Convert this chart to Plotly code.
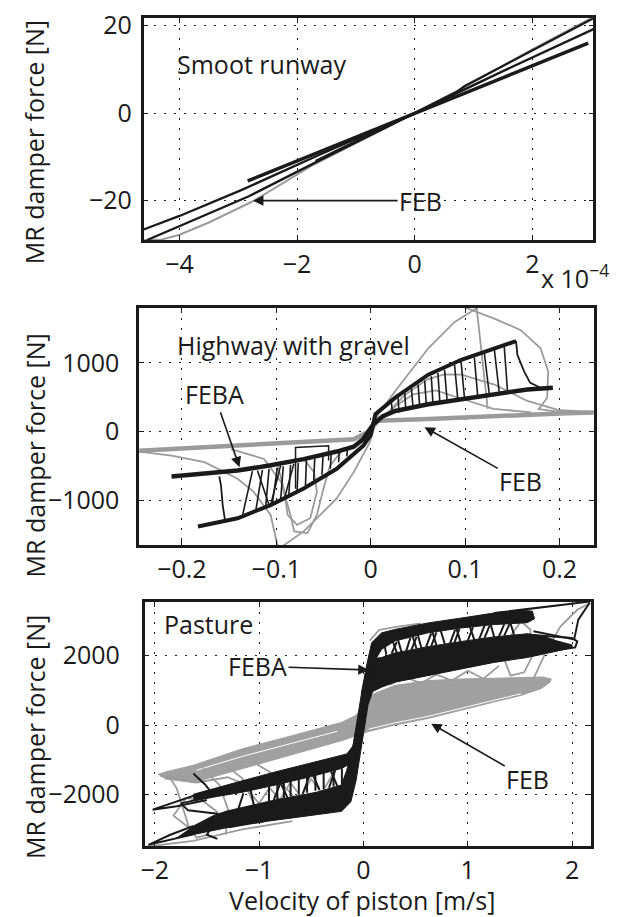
import plotly.graph_objects as go

FONT = "Open Sans"
FS = 25
BLACK = "#1a1a1a"
GREY = "#9b9b9b"
GREYFILL = "#a0a0a0"

# ---------------- Panel 1: Smoot runway (velocity in units of 1e-4 m/s) ----------------
p1_feba_a_x = [-4.61, -4.0, -2.95, -1.6, 0.0, 0.73, 0.85, 1.6, 3.04]
p1_feba_a_y = [-26.6, -23.5, -17.6, -9.4, 0.0, 5.0, 6.2, 11.5, 21.7]
p1_feba_b_x = [-4.55, -4.0, -2.82, -1.5, 0.0, 1.5, 3.04]
p1_feba_b_y = [-29.0, -25.8, -19.0, -10.0, 0.0, 9.6, 19.2]
p1_feba_c_x = [-2.84, 2.95]
p1_feba_c_y = [-15.5, 16.0]
p1_feba_d_x = [-1.69, -0.8, 0.0, 1.2]
p1_feba_d_y = [-10.9, -5.0, 0.0, 7.6]
p1_feb_x = [-4.6, -4.3, -4.0, -3.5, -2.76, -1.75, -0.8, 0.0, 0.8, 2.0, 3.04]
p1_feb_y = [-29.0, -28.9, -27.8, -25.0, -20.2, -12.0, -5.5, 0.0, 5.6, 14.6, 22.0]
p1_xticks = [-4, -2, 0, 2]
p1_xticktext = ["\u22124", "\u22122", "0", "2"]
p1_yticks = [-20, 0, 20]
p1_yticktext = ["\u221220", "0", "20"]

# ---------------- Panel 2: Highway with gravel ----------------
p2_feba_small_x = [-0.211, -0.175, -0.141, -0.106, -0.071, -0.036, -0.018, -0.008, 0.003, 0.013, 0.026, 0.061, 0.096, 0.131, 0.166, 0.193]
p2_feba_small_y = [-651, -610, -565, -490, -400, -290, -220, -110, 110, 225, 300, 397, 469, 550, 613, 637]
p2_feba_large_x = [-0.183, -0.141, -0.106, -0.071, -0.036, -0.018, -0.008, 0.0, 0.005, 0.026, 0.061, 0.096, 0.131, 0.154]
p2_feba_large_y = [-1379, -1259, -1068, -828, -541, -330, -206, -50, 254, 493, 828, 1044, 1211, 1316]
p2_tail_r_x = [0.154, 0.1554, 0.1625, 0.169, 0.180]
p2_tail_r_y = [1316, 1115, 876, 708, 637]
p2_tail_l_x = [-0.1604, -0.1586, -0.1568, -0.1544]
p2_tail_l_y = [-651, -780, -1068, -1283]
p2_trans_r_x0 = [0.1414, 0.1309, 0.1204, 0.1098, 0.0958, 0.0888, 0.0782, 0.0712, 0.0642, 0.0572, 0.0502, 0.0432, 0.0361, 0.0290, 0.0220]
p2_trans_r_y0 = [1249, 1202, 1139, 1077, 1010, 972, 900, 852, 804, 742, 685, 627, 565, 493, 421]
p2_trans_r_x1 = [0.1449, 0.1361, 0.1256, 0.1133, 0.0993, 0.0923, 0.0810, 0.0733, 0.0660, 0.0590, 0.0520, 0.0450, 0.0372, 0.0300, 0.0230]
p2_trans_r_y1 = [598, 579, 550, 531, 493, 469, 445, 421, 397, 373, 349, 326, 302, 278, 254]
p2_trans_l_x0 = [-0.1358, -0.1218, -0.1112, -0.1042, -0.0954, -0.0867, -0.0779, -0.0691, -0.0604, -0.0516, -0.0428, -0.0340, -0.0253]
p2_trans_l_y0 = [-1221, -1154, -1091, -1048, -996, -924, -852, -780, -708, -627, -541, -445, -359]
p2_trans_l_x1 = [-0.1253, -0.1147, -0.1077, -0.0989, -0.0926, -0.0849, -0.0768, -0.0681, -0.0593, -0.0505, -0.0418, -0.0333, -0.0246]
p2_trans_l_y1 = [-574, -555, -541, -527, -503, -483, -455, -421, -397, -359, -326, -292, -254]
p2_diag_x0 = [-0.120, -0.0954, -0.0814]
p2_diag_y0 = [-565, -493, -469]
p2_diag_x1 = [-0.1077, -0.106, -0.0919]
p2_diag_y1 = [-1068, -1068, -996]
p2_box_x = [-0.0796, -0.0796, -0.0446, -0.0446]
p2_box_y = [-830, -230, -206, -421]
p2_feb_flat_x = [-0.2453, -0.176, -0.106, -0.036, -0.018, -0.004, 0.008, 0.061, 0.131, 0.20, 0.2363]
p2_feb_flat_y = [-278, -230, -182, -134, -110, -14, 158, 182, 230, 263, 278]
p2_feb_s_x = [-0.2453, -0.211, -0.176, -0.141, -0.124, -0.106, -0.099, -0.095, -0.071, -0.036, -0.018, -0.001, 0.008, 0.026, 0.061, 0.089, 0.113, 0.118]
p2_feb_s_y = [-290, -349, -445, -685, -876, -1211, -1640, -1680, -1450, -972, -589, -158, 254, 589, 1211, 1594, 1800, 1830]
p2_feb_arc_x = [0.095, 0.131, 0.159, 0.180, 0.188, 0.187, 0.178, 0.20, 0.2363]
p2_feb_arc_y = [1830, 1642, 1474, 1211, 876, 493, 326, 285, 280]
p2_feb_vert_x = [0.112, 0.116, 0.120, 0.124]
p2_feb_vert_y = [1830, 1340, 860, 330]
p2_feb_inner_x = [0.015, 0.035, 0.060, 0.078, 0.096, 0.131, 0.166, 0.20, 0.2363]
p2_feb_inner_y = [230, 520, 760, 830, 828, 684, 445, 310, 285]
p2_feb_inner2_x = [0.012, 0.027, 0.045, 0.069, 0.098, 0.13, 0.17]
p2_feb_inner2_y = [200, 380, 540, 600, 470, 330, 280]
p2_feb_l1_x = [-0.148, -0.113, -0.095, -0.085, -0.081, -0.067, -0.057, -0.050, -0.043, -0.029]
p2_feb_l1_y = [-254, -397, -732, -1211, -1450, -1474, -1211, -828, -493, -254]
p2_feb_l2_x = [-0.099, -0.092, -0.088, -0.078, -0.064, -0.057, -0.060, -0.071, -0.099]
p2_feb_l2_y = [-469, -828, -1211, -1355, -1259, -876, -589, -397, -469]
p2_xticks = [-0.2, -0.1, 0, 0.1, 0.2]
p2_xticktext = ["\u22120.2", "\u22120.1", "0", "0.1", "0.2"]
p2_yticks = [-1000, 0, 1000]
p2_yticktext = ["\u22121000", "0", "1000"]

# ---------------- Panel 3: Pasture ----------------
p3_feb_band_x = [-1.97, -1.89, -1.63, -1.16, -0.68, -0.21, -0.08, 0.0, 0.1, 0.30, 0.62, 0.94, 1.25, 1.51, 1.72, 1.80,
                 1.79, 1.70, 1.51, 1.25, 0.94, 0.62, 0.30, 0.048, -0.21, -0.68, -1.16, -1.63, -1.90]
p3_feb_band_y = [-1420, -1343, -1154, -681, -303, 76, 265, 500, 900, 1135, 1277, 1324, 1343, 1371, 1380, 1320,
                 1229, 1040, 851, 662, 426, 189, 0, -189, -450, -850, -1250, -1650, -1550]
p3_feb_white_x = [0.05, 0.30, 0.62, 0.94, 1.25, 1.51]
p3_feb_white_y = [-120, 60, 250, 480, 710, 900]
p3_feb_white2_x = [-1.6, -1.16, -0.68, -0.25]
p3_feb_white2_y = [-1300, -900, -520, -180]
p3_feb_gl_a_x = [-1.89, -1.79, -1.73, -1.67, -1.60, -1.48]
p3_feb_gl_a_y = [-1343, -1816, -2383, -2950, -3234, -3140]
p3_feb_gl_b_x = [-1.54, -1.38, -1.29, -1.32]
p3_feb_gl_b_y = [-1248, -1721, -2478, -3140]
p3_feb_gl_c_x = [-1.32, -1.16, -1.06, -1.0]
p3_feb_gl_c_y = [-1154, -1532, -2194, -2600]
p3_feb_gl_d_x = [-1.06, -0.90, -0.71, -0.6]
p3_feb_gl_d_y = [-1059, -1343, -1910, -2300]
p3_feb_gl_e_x = [-1.70, -1.82, -1.65, -1.45, -1.40, -1.55, -1.70]
p3_feb_gl_e_y = [-2100, -2600, -3000, -2950, -2500, -2150, -2100]
p3_feb_gl_f_x = [-1.95, -1.60, -1.30, -1.10, -0.90]
p3_feb_gl_f_y = [-1450, -1650, -1500, -1750, -1500]
p3_feb_bottom_x = [-2.10, -1.63, -1.16, -0.68]
p3_feb_bottom_y = [-3500, -3329, -2998, -2761]
p3_feb_zig_l_x = [-1.1, -1.0, -0.9, -0.8, -0.7, -0.6, -0.5, -0.4, -0.3]
p3_feb_zig_l_y = [-1900, -2250, -1800, -2150, -1650, -2050, -1550, -1950, -1450]
p3_feb_gr_a_x = [1.35, 1.41, 1.51, 1.60, 1.62, 1.54, 1.41, 1.35]
p3_feb_gr_a_y = [1891, 2553, 2979, 2743, 1986, 1513, 1419, 1891]
p3_feb_gr_b_x = [1.63, 1.76, 1.89, 2.05, 2.17]
p3_feb_gr_b_y = [1324, 2175, 2837, 3310, 3499]
p3_feb_zig_r_x = [0.25, 0.40, 0.55, 0.70, 0.85, 1.00, 1.15, 1.30]
p3_feb_zig_r_y = [1150, 1380, 1200, 1450, 1280, 1560, 1330, 1700]
p3_feb_top_x = [0.06, 0.15, 0.30, 0.55]
p3_feb_top_y = [2420, 2730, 2810, 2920]

p3_feba_main_x = [-1.80, -1.63, -1.45, -1.16, -0.68, -0.21, -0.12, -0.07, -0.03, 0.01, 0.045, 0.09, 0.175, 0.30, 0.62, 0.94, 1.25, 1.57, 1.72, 1.85, 2.0,
                  2.0, 1.85, 1.72, 1.57, 1.25, 0.94, 0.62, 0.30, 0.175, 0.08, 0.03, -0.02, -0.055, -0.075, -0.10, -0.16,
                  -0.21, -0.45, -0.84, -1.32, -1.45, -1.63]
p3_feba_main_y = [-3250, -3140, -3030, -2856, -2667, -2478, -2200, -1589, -831, -74, 587, 965, 1088, 1229, 1419, 1608, 1797, 1939, 2030, 2120, 2230,
                  2300, 2420, 2560, 2620, 2530, 2400, 2250, 2070, 1939, 1900, 1580, 871, 210, -264, -600, -1300,
                  -1721, -1930, -2147, -2478, -2620, -2900]
p3_feba_ll_x = [-1.63, -1.40, -1.16, -0.84, -0.50, -0.21, -0.16, -0.10, -0.075, -0.05,
                -0.02, -0.06, -0.21, -0.50, -0.84, -1.16, -1.40, -1.63]
p3_feba_ll_y = [-1990, -1790, -1600, -1343, -1080, -870, -831, -600, -264, 150,
                -300, -1000, -1248, -1480, -1721, -1930, -2050, -2180]
p3_feba_ur_x = [-0.02, 0.03, 0.079, 0.175, 0.30, 0.62, 0.94, 1.25, 1.50, 1.62,
                1.64, 1.57, 1.25, 0.94, 0.62, 0.30, 0.175, 0.10, 0.05]
p3_feba_ur_y = [900, 1700, 2364, 2648, 2743, 2932, 3073, 3215, 3300, 3270,
                3050, 2940, 2884, 2790, 2648, 2412, 2175, 1800, 1000]
p3_feba_topline_x = [1.25, 1.60, 1.89, 2.17]
p3_feba_topline_y = [3215, 3340, 3452, 3546]
p3_feba_loop1_x = [-1.50, -1.79, -2.02, -1.79, -1.50]
p3_feba_loop1_y = [-1900, -2194, -2430, -2330, -2150]
p3_feba_loop2_x = [-1.63, -1.85, -2.06, -1.85, -1.63]
p3_feba_loop2_y = [-2900, -3150, -3440, -3300, -3140]
p3_feba_loop3_x = [-0.9, -1.29, -0.95]
p3_feba_loop3_y = [-2560, -2932, -2760]
p3_feba_squig_x = [-1.63, -1.52, -1.45, -1.60, -1.75, -1.68, -1.40, -1.30, -1.45, -1.50, -1.40]
p3_feba_squig_y = [-1390, -1700, -1960, -2150, -2250, -2450, -2550, -2700, -2900, -3150, -3270]
p3_feba_loopR1_x = [1.55, 1.80, 2.03, 2.05, 2.0, 1.75, 1.55]
p3_feba_loopR1_y = [2000, 2120, 2230, 2400, 2500, 2560, 2600]
p3_feba_loopR2_x = [1.63, 2.02, 2.06, 2.17]
p3_feba_loopR2_y = [2695, 2459, 3026, 3518]
p3_bar_l_x0 = [-1.20, -1.05, -0.905, -0.86, -0.825, -0.762, -0.73, -0.698, -0.619, -0.58, -0.540, -0.460, -0.42, -0.381, -0.33, -0.286, -0.25, -0.206]
p3_bar_l_y0 = [-2420, -2300, -2190, -2160, -2137, -2094, -2070, -2051, -1998, -1970, -1944, -1890, -1860, -1836, -1800, -1772, -1745, -1718]
p3_bar_l_x1 = [-1.15, -1.08, -0.905, -0.80, -0.825, -0.762, -0.79, -0.698, -0.619, -0.52, -0.540, -0.460, -0.48, -0.381, -0.27, -0.286, -0.31, -0.206]
p3_bar_l_y1 = [-1960, -1880, -1770, -1700, -1710, -1663, -1690, -1615, -1555, -1480, -1496, -1436, -1460, -1377, -1300, -1305, -1340, -1245]
p3_bar_r_x0 = [0.22, 0.27, 0.32, 0.365, 0.41, 0.46, 0.51, 0.556, 0.60, 0.65, 0.70, 0.78, 0.83, 0.873, 0.93, 1.0, 1.063, 1.11, 1.159, 1.254, 1.30, 1.349, 1.444]
p3_bar_r_y0 = [2020, 2050, 2080, 2105, 2130, 2160, 2190, 2215, 2240, 2265, 2290, 2325, 2345, 2365, 2395, 2420, 2445, 2470, 2490, 2530, 2545, 2560, 2590]
p3_bar_r_x1 = [0.20, 0.32, 0.28, 0.33, 0.45, 0.51, 0.47, 0.52, 0.65, 0.70, 0.66, 0.74, 0.88, 0.92, 0.89, 1.05, 1.02, 1.16, 1.21, 1.22, 1.35, 1.40, 1.41]
p3_bar_r_y1 = [2330, 2390, 2420, 2460, 2500, 2530, 2560, 2600, 2630, 2660, 2690, 2720, 2740, 2760, 2790, 2810, 2830, 2845, 2855, 2885, 2895, 2900, 2920]
p3_xticks = [-2, -1, 0, 1, 2]
p3_xticktext = ["\u22122", "\u22121", "0", "1", "2"]
p3_yticks = [-2000, 0, 2000]
p3_yticktext = ["\u22122000", "0", "2000"]

fig = go.Figure()


def add_line(x, y, ax, color, width):
    fig.add_trace(go.Scatter(x=x, y=y, mode="lines", line=dict(color=color, width=width),
                             xaxis="x" + ax, yaxis="y" + ax, hoverinfo="skip", showlegend=False))


def add_poly(x, y, ax, color):
    fig.add_trace(go.Scatter(x=x, y=y, mode="lines", fill="toself", fillcolor=color,
                             line=dict(color=color, width=1), xaxis="x" + ax, yaxis="y" + ax,
                             hoverinfo="skip", showlegend=False))


def add_segments(x0, y0, x1, y1, ax, color, width):
    xs, ys = [], []
    for a, b, c, d in zip(x0, y0, x1, y1):
        xs += [a, c, None]
        ys += [b, d, None]
    add_line(xs, ys, ax, color, width)


# Panel 1
add_line(p1_feb_x, p1_feb_y, "", GREY, 2)
add_line(p1_feba_a_x, p1_feba_a_y, "", BLACK, 2.3)
add_line(p1_feba_b_x, p1_feba_b_y, "", BLACK, 2.3)
add_line(p1_feba_d_x, p1_feba_d_y, "", BLACK, 1.6)
add_line(p1_feba_c_x, p1_feba_c_y, "", BLACK, 3.5)

# Panel 2
for xx, yy in [(p2_feb_s_x, p2_feb_s_y), (p2_feb_arc_x, p2_feb_arc_y), (p2_feb_vert_x, p2_feb_vert_y),
               (p2_feb_inner_x, p2_feb_inner_y), (p2_feb_inner2_x, p2_feb_inner2_y),
               (p2_feb_l1_x, p2_feb_l1_y), (p2_feb_l2_x, p2_feb_l2_y)]:
    add_line(xx, yy, "2", GREY, 1.8)
add_line(p2_feb_flat_x, p2_feb_flat_y, "2", GREY, 4.5)
add_segments(p2_trans_r_x0, p2_trans_r_y0, p2_trans_r_x1, p2_trans_r_y1, "2", BLACK, 1.6)
add_segments(p2_trans_l_x0, p2_trans_l_y0, p2_trans_l_x1, p2_trans_l_y1, "2", BLACK, 1.6)
add_segments(p2_diag_x0, p2_diag_y0, p2_diag_x1, p2_diag_y1, "2", BLACK, 1.6)
add_line(p2_box_x, p2_box_y, "2", BLACK, 1.5)
add_line(p2_tail_r_x, p2_tail_r_y, "2", BLACK, 1.8)
add_line(p2_tail_l_x, p2_tail_l_y, "2", BLACK, 1.8)
add_line(p2_feba_small_x, p2_feba_small_y, "2", BLACK, 4.5)
add_line(p2_feba_large_x, p2_feba_large_y, "2", BLACK, 4)

# Panel 3
add_poly(p3_feb_band_x, p3_feb_band_y, "3", GREYFILL)
add_line(p3_feb_white_x, p3_feb_white_y, "3", "white", 1)
add_line(p3_feb_white2_x, p3_feb_white2_y, "3", "white", 1)
for xx, yy in [(p3_feb_gl_a_x, p3_feb_gl_a_y), (p3_feb_gl_b_x, p3_feb_gl_b_y), (p3_feb_gl_c_x, p3_feb_gl_c_y),
               (p3_feb_gl_d_x, p3_feb_gl_d_y), (p3_feb_gl_e_x, p3_feb_gl_e_y), (p3_feb_gl_f_x, p3_feb_gl_f_y),
               (p3_feb_bottom_x, p3_feb_bottom_y),
               (p3_feb_zig_l_x, p3_feb_zig_l_y), (p3_feb_gr_a_x, p3_feb_gr_a_y), (p3_feb_gr_b_x, p3_feb_gr_b_y),
               (p3_feb_zig_r_x, p3_feb_zig_r_y), (p3_feb_top_x, p3_feb_top_y)]:
    add_line(xx, yy, "3", GREY, 1.8)
add_poly(p3_feba_main_x, p3_feba_main_y, "3", BLACK)
add_poly(p3_feba_ll_x, p3_feba_ll_y, "3", BLACK)
add_poly(p3_feba_ur_x, p3_feba_ur_y, "3", BLACK)
add_segments(p3_bar_l_x0, p3_bar_l_y0, p3_bar_l_x1, p3_bar_l_y1, "3", BLACK, 2)
add_segments(p3_bar_r_x0, p3_bar_r_y0, p3_bar_r_x1, p3_bar_r_y1, "3", BLACK, 2)
for xx, yy in [(p3_feba_topline_x, p3_feba_topline_y), (p3_feba_loop1_x, p3_feba_loop1_y),
               (p3_feba_loop2_x, p3_feba_loop2_y), (p3_feba_loop3_x, p3_feba_loop3_y),
               (p3_feba_squig_x, p3_feba_squig_y), (p3_feba_loopR1_x, p3_feba_loopR1_y),
               (p3_feba_loopR2_x, p3_feba_loopR2_y)]:
    add_line(xx, yy, "3", BLACK, 2)

W, H = 633, 917


def px(v):
    return v / W


def py(v):
    return 1 - v / H


tickfont = dict(family=FONT, size=FS, color=BLACK)
axis_style = dict(showline=True, linecolor=BLACK, linewidth=2.5, mirror="ticks",
                  showgrid=True, gridcolor=BLACK, gridwidth=1, griddash="2px,8px",
                  zeroline=False, ticks="inside", ticklen=5, tickwidth=1.2, tickcolor=BLACK,
                  tickfont=tickfont, ticklabeloverflow="allow")


def xaxis(dom, rng, tv, tt, anchor):
    return dict(domain=dom, range=rng, tickvals=tv, ticktext=tt, anchor=anchor,
                ticklabelstandoff=0, **axis_style)


def yaxis(dom, rng, tv, tt, anchor, standoff):
    return dict(domain=dom, range=rng, tickvals=tv, ticktext=tt, anchor=anchor,
                ticklabelstandoff=standoff, **axis_style)


fig.update_layout(
    width=W, height=H, autosize=False,
    margin=dict(l=0, r=0, t=0, b=0),
    paper_bgcolor="white", plot_bgcolor="white",
    font=dict(family=FONT, size=FS, color=BLACK),
    xaxis=xaxis([px(140.5), px(593)], [-4.61, 3.035], p1_xticks, p1_xticktext, "y"),
    yaxis=yaxis([py(232), py(7.3)], [-29.05, 21.7], p1_yticks, p1_yticktext, "x", 4),
    xaxis2=xaxis([px(136), px(593.5)], [-0.2453, 0.2363], p2_xticks, p2_xticktext, "y2"),
    yaxis2=yaxis([py(540.7), py(300.7)], [-1651, 1795], p2_yticks, p2_yticktext, "x2", 12),
    xaxis3=xaxis([px(141.5), px(591)], [-2.097, 2.184], p3_xticks, p3_xticktext, "y3"),
    yaxis3=yaxis([py(845.3), py(598)], [-3478, 3538], p3_yticks, p3_yticktext, "x3", 17),
)

txt = dict(family=FONT, size=FS, color=BLACK)
ann = []
for yc in [133, 450, 735]:
    ann.append(dict(text="MR damper force [N]", x=px(31), y=py(yc), xref="paper", yref="paper",
                    textangle=-90, showarrow=False, font=txt, xanchor="center", yanchor="middle"))
ann.append(dict(text="Velocity of piston [m/s]", x=px(360), y=py(900), xref="paper", yref="paper",
                showarrow=False, font=txt, xanchor="center", yanchor="middle"))
ann.append(dict(text="x 10<sup>\u22124</sup>", x=px(538), y=py(269), xref="paper", yref="paper",
                showarrow=False, font=txt, xanchor="left", yanchor="middle"))
ann.append(dict(text="Smoot runway", x=-2.6, y=11.3, xref="x", yref="y", showarrow=False, font=txt))
ann.append(dict(text="Highway with gravel", x=-0.082, y=1260, xref="x2", yref="y2", showarrow=False, font=txt))
ann.append(dict(text="Pasture", x=-1.48, y=2905, xref="x3", yref="y3", showarrow=False, font=txt))
arrow = dict(showarrow=True, arrowhead=2, arrowsize=1.3, arrowwidth=1.6, arrowcolor=BLACK,
             standoff=0, startstandoff=0, font=txt)
ann.append(dict(text="FEB", x=-2.75, y=-20, ax=0.1, ay=-20, xref="x", yref="y", axref="x", ayref="y", **arrow))
ann.append(dict(text="FEBA", x=-0.139, y=-517, ax=-0.166, ay=550, xref="x2", yref="y2", axref="x2", ayref="y2", **arrow))
ann.append(dict(text="FEB", x=0.057, y=65, ax=0.159, ay=-723, xref="x2", yref="y2", axref="x2", ayref="y2", **arrow))
ann.append(dict(text="FEBA", x=0.05, y=1580, ax=-1.015, ay=1690, xref="x3", yref="y3", axref="x3", ayref="y3", **arrow))
ann.append(dict(text="FEB", x=0.65, y=40, ax=1.575, ay=-1555, xref="x3", yref="y3", axref="x3", ayref="y3", **arrow))
fig.update_layout(annotations=ann)

fig.write_html("out.html", config={"displayModeBar": False},
               post_script="document.body.style.margin='0px';document.body.style.overflow='hidden';")
